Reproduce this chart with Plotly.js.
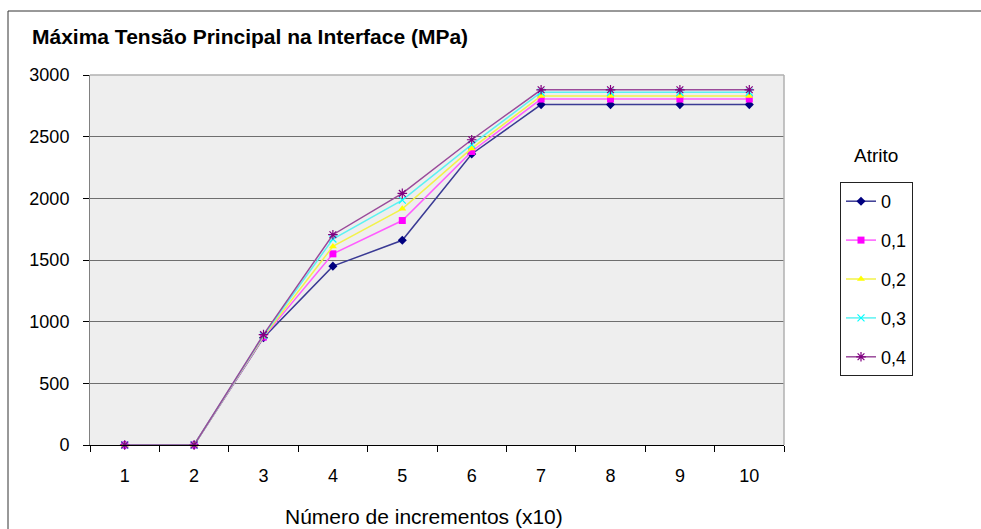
<!DOCTYPE html>
<html>
<head>
<meta charset="utf-8">
<script src="https://cdn.plot.ly/plotly-3.0.1.min.js"></script>
<style>
html,body{margin:0;padding:0;background:#fff;}
#chart{width:981px;height:529px;}
</style>
</head>
<body>
<div id="chart"></div>
<script>
const categories = ["1","2","3","4","5","6","7","8","9","10"];
const seriesNames = ["0","0,1","0,2","0,3","0,4"];
const s0  = [0, 0, 870, 1450, 1660, 2360, 2760, 2760, 2760, 2760];
const s01 = [0, 0, 875, 1550, 1820, 2380, 2805, 2805, 2805, 2805];
const s02 = [0, 0, 880, 1610, 1915, 2405, 2830, 2830, 2830, 2830];
const s03 = [0, 0, 888, 1670, 1985, 2435, 2860, 2860, 2860, 2860];
const s04 = [0, 0, 895, 1705, 2040, 2475, 2880, 2880, 2880, 2880];
const yTicks = [0, 500, 1000, 1500, 2000, 2500, 3000];

const seriesValues = [s0, s01, s02, s03, s04];
const colors = ["#000080", "#FF00FF", "#FFFF00", "#00FFFF", "#800080"];
const lineColors = ["#3a3a94", "#ff5cff", "#f2f24a", "#5cf2f2", "#9a4a9a"];
const symbols = ["diamond", "square", "triangle-up", "x-thin-open", "asterisk-open"];
const sizes = [7, 7, 7, 7, 8];

const traces = seriesValues.map((vals, i) => ({
  type: "scatter",
  mode: "lines+markers",
  x: categories,
  y: vals,
  name: seriesNames[i],
  legendgroup: "g" + i,
  line: {color: lineColors[i], width: 1.5},
  marker: {symbol: symbols[i], size: sizes[i], color: colors[i],
           line: {color: colors[i], width: (i >= 3 ? 1.2 : 0)}},
  cliponaxis: false
}));

const L = 90, R = 784, T = 75, B = 445;
const pw = R - L, ph = B - T;
const px = v => (v - L) / pw;
const py = v => (B - v) / ph;

const layout = {
  width: 981, height: 529,
  margin: {l: L, r: 981 - R, t: T, b: 529 - B, pad: 0},
  paper_bgcolor: "#ffffff",
  plot_bgcolor: "#eeeeee",
  font: {family: "Liberation Sans, Arial, sans-serif", size: 18, color: "#000"},
  title: {
    text: "<b>Máxima Tensão Principal na Interface (MPa)</b>",
    font: {family: "Liberation Sans, Arial, sans-serif", size: 21, color: "#000"},
    x: 32 / 981, xanchor: "left", xref: "container",
    y: 1 - 37 / 529, yanchor: "middle", yref: "container"
  },
  xaxis: {
    type: "category",
    range: [-0.5, 9.5],
    tickson: "boundaries",
    ticks: "outside", ticklen: 6, tickcolor: "#000", tickwidth: 1,
    showline: true, linecolor: "#000", linewidth: 1,
    showgrid: false, zeroline: false,
    ticklabelstandoff: 14,
    tickfont: {size: 18},
    fixedrange: true
  },
  yaxis: {
    range: [0, 3000],
    tickmode: "array", tickvals: yTicks, ticktext: yTicks.map(String),
    ticks: "outside", ticklen: 6, tickcolor: "#000", tickwidth: 1,
    showline: true, linecolor: "#808080", linewidth: 1,
    showgrid: true, gridcolor: "#6e6e6e", gridwidth: 1,
    zeroline: false,
    ticklabelstandoff: 10,
    tickfont: {size: 18},
    fixedrange: true
  },
  showlegend: true,
  legend: {
    x: px(840), y: py(182), xanchor: "left", yanchor: "top",
    xref: "paper", yref: "paper",
    bgcolor: "#ffffff", bordercolor: "#222", borderwidth: 1,
    font: {size: 18},
    traceorder: "grouped", tracegroupgap: 12.5,
    itemwidth: 30
  },
  annotations: [
    {
      text: "Atrito", xref: "paper", yref: "paper",
      x: px(876), y: py(155), xanchor: "center", yanchor: "middle",
      showarrow: false, font: {size: 19}
    },
    {
      text: "Número de incrementos (x10)", xref: "paper", yref: "paper",
      x: px(424), y: py(516), xanchor: "center", yanchor: "middle",
      showarrow: false, font: {size: 21}
    }
  ],
  shapes: [
    {type: "line", xref: "paper", yref: "paper", x0: 0, x1: 1, y0: 1, y1: 1,
     line: {color: "#b0b0b0", width: 1.5}},
    {type: "line", xref: "paper", yref: "paper", x0: 1, x1: 1, y0: 0, y1: 1,
     line: {color: "#b0b0b0", width: 1.5}},
    {type: "rect", xref: "paper", yref: "paper",
     x0: px(8), x1: px(1100), y0: py(11), y1: py(700),
     line: {color: "#333", width: 1}, fillcolor: "rgba(0,0,0,0)", layer: "below"}
  ]
};

Plotly.newPlot("chart", traces, layout, {staticPlot: true, displayModeBar: false});
</script>
</body>
</html>
